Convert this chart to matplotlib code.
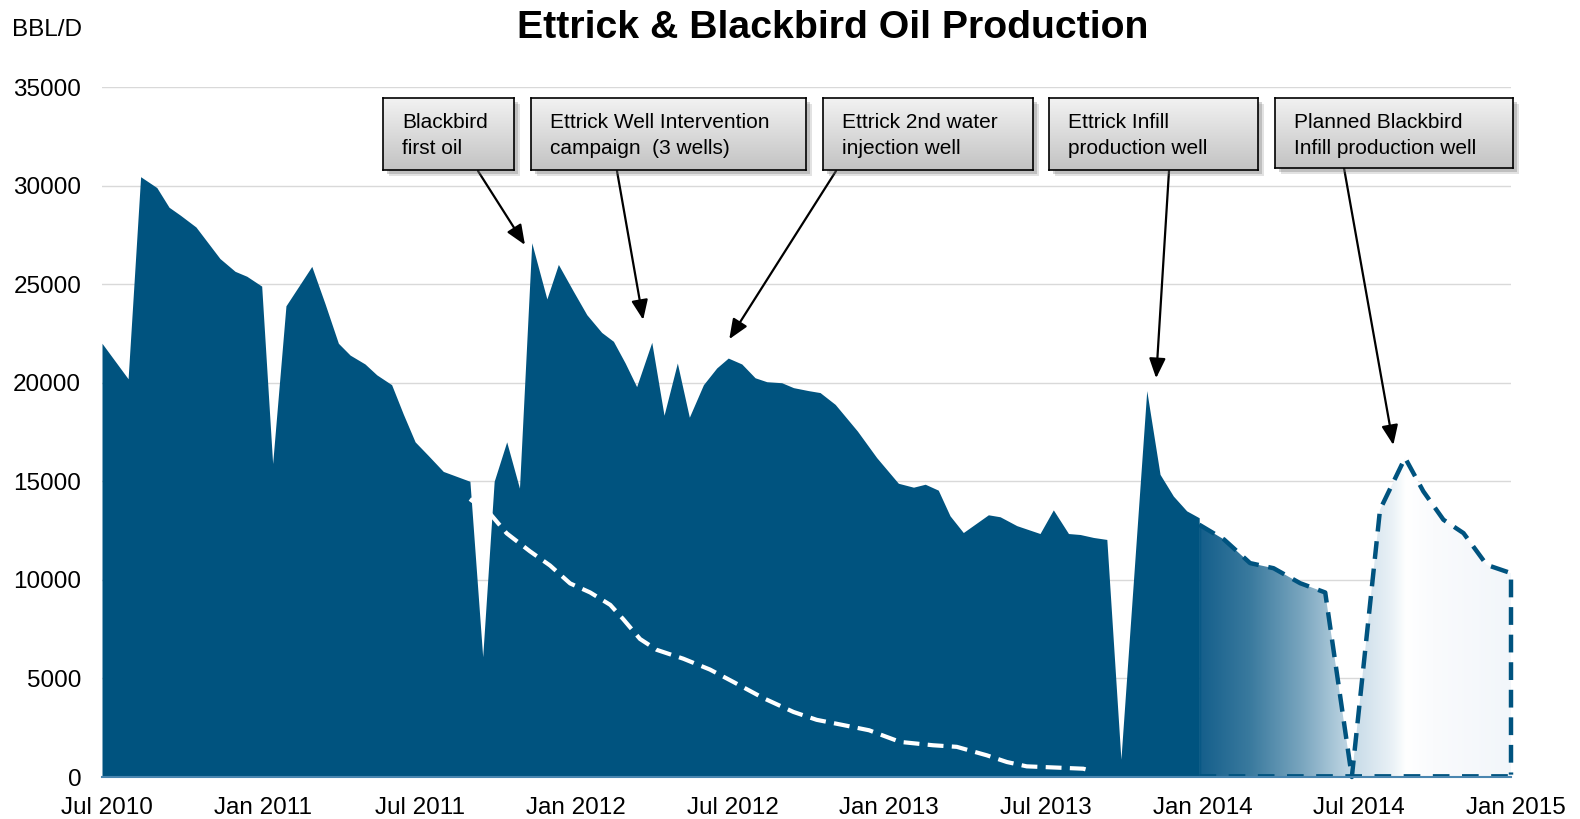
# Ettrick & Blackbird oil production chart
import matplotlib.pyplot as plt
import numpy as np
from matplotlib.colors import LinearSegmentedColormap
from matplotlib.patches import Rectangle
from matplotlib.transforms import ScaledTranslation

plt.rcParams['font.family'] = ['Liberation Sans', 'DejaVu Sans']

W, H = 1580, 819
BLUE = '#00537f'

# x values are months counted from Jul 2010
hist_month = [0, 1.0, 1.48, 2.1, 2.57, 3.0, 3.6, 4.52, 5.1, 5.55, 6.12, 6.54, 7.05, 8.04,
              8.55, 9.06, 9.51, 10.08, 10.53, 11.1, 11.55, 12.0, 12.51, 13.08, 14.1, 14.59,
              15.03, 15.51, 16.0, 16.47, 17.05, 17.49, 18.06, 18.58, 19.15, 19.6, 20.05,
              20.49, 21.07, 21.54, 22.05, 22.51, 23.05, 23.56, 24.0, 24.52, 25.03, 25.48,
              26.05, 26.5, 27.07, 27.52, 28.1, 28.95, 29.69, 30.52, 31.1, 31.55, 32.05,
              32.5, 33.01, 33.97, 34.42, 35.06, 35.95, 36.46, 37.04, 37.49, 38.0, 38.51,
              39.05, 40.04, 40.55, 41.06, 41.57, 42.05]
hist_bbld = [22000, 20200, 30450, 29900, 28900, 28500, 27900, 26300, 25650, 25400, 24900,
             15900, 23900, 25900, 24000, 22000, 21400, 20950, 20400, 19900, 18400, 17000,
             16300, 15500, 15000, 6100, 15000, 17000, 14650, 27100, 24250, 26000, 24650,
             23450, 22550, 22100, 21000, 19800, 22050, 18350, 21000, 18250, 19900, 20750,
             21250, 20950, 20250, 20050, 20000, 19750, 19600, 19500, 18900, 17550, 16200,
             14900, 14700, 14850, 14550, 13250, 12400, 13300, 13200, 12750, 12350, 13550,
             12350, 12300, 12150, 12050, 900, 19600, 15350, 14250, 13500, 13150]

blackbird_month = [14.1, 14.87, 15.51, 16.4, 17.17, 17.94, 18.71, 19.48, 19.98, 20.62, 21.26,
                   22.28, 23.3, 24.2, 25.35, 26.5, 27.39, 28.35, 29.4, 30.08, 30.59, 31.85,
                   32.76, 33.91, 34.68, 35.44, 36.72, 37.61, 37.8]
blackbird_bbld = [14100, 13360, 12360, 11450, 10730, 9820, 9360, 8730, 8000, 7000, 6450,
                  6000, 5450, 4820, 4000, 3300, 2900, 2650, 2370, 2030, 1780, 1610, 1530,
                  1100, 760, 540, 470, 420, 350]

forecast_month = [42.05, 43, 44, 44.9, 45.92, 46.88, 47.9, 48.98, 49.94, 50.64, 51.41, 52.18,
                  53.07, 54]
forecast_bbld = [12800, 12050, 10850, 10590, 9830, 9360, 0, 13560, 16190, 14490, 13050,
                 12370, 10760, 10340]

tick_month = [0, 6, 12, 18, 24, 30, 36, 42, 48, 54]
tick_labels = ['Jul 2010', 'Jan 2011', 'Jul 2011', 'Jan 2012', 'Jul 2012', 'Jan 2013',
               'Jul 2013', 'Jan 2014', 'Jul 2014', 'Jan 2015']
y_ticks = [0, 5000, 10000, 15000, 20000, 25000, 30000, 35000]

notes = [['Blackbird', 'first oil'],
         ['Ettrick Well Intervention', 'campaign  (3 wells)'],
         ['Ettrick 2nd water', 'injection well'],
         ['Ettrick Infill', 'production well'],
         ['Planned Blackbird', 'Infill production well']]
# what each note points at (month, bbl/d)
note_target_month = [16.21, 20.74, 24.04, 40.4, 49.49]
note_target_bbld = [26990, 23190, 22210, 20230, 16840]

# layout in pixels from top-left: box (x0, y0, x1, y1), arrow start
note_boxes = [(383, 98, 514, 170), (531, 98, 806, 170), (823, 98, 1033, 170),
              (1049, 98, 1258, 170), (1275, 98, 1513, 168)]
note_starts = [(478, 171), (617, 171), (836, 171), (1169, 171), (1344, 168)]


def fig_frac(x, y):
    return x / W, 1 - y / H


fig = plt.figure(figsize=(W / 100, H / 100), dpi=100)
left, top = fig_frac(102, 87)
right, bottom = fig_frac(1511, 777)
ax = fig.add_axes([left, bottom, right - left, top - bottom])

ax.fill_between(hist_month, hist_bbld, color=BLUE, lw=0, zorder=2)

# forecast area with horizontal colour fade
poly = ax.fill_between(forecast_month, forecast_bbld, facecolor='none', lw=0, zorder=2)
stops = [42.05, 42.15, 44, 46, 48, 48.3, 49.5, 50, 51, 54]
reds = [0, 22, 58, 122, 200, 207, 235, 255, 250, 242]
greens = [82, 96, 122, 166, 220, 224, 242, 255, 251, 246]
blues = [128, 140, 158, 191, 232, 235, 247, 255, 253, 250]
gx = np.linspace(forecast_month[0], forecast_month[-1], 400)
grad = np.stack([np.interp(gx, stops, reds), np.interp(gx, stops, greens),
                 np.interp(gx, stops, blues)], axis=-1)[None, :, :] / 255.0
img = ax.imshow(grad, extent=[forecast_month[0], forecast_month[-1], 0, 35000],
                aspect='auto', origin='lower', zorder=2, interpolation='bilinear')
img.set_clip_path(poly.get_paths()[0], transform=ax.transData)

# dashed outline of the forecast
out_x = list(forecast_month) + [forecast_month[-1]]
out_y = list(forecast_bbld) + [120]
line, = ax.plot(out_x, out_y, color=BLUE, lw=3.2, zorder=4, clip_on=False)
line.set_dashes([4, 2.2])
base, = ax.plot([forecast_month[0], forecast_month[-1]], [120, 120], color=BLUE, lw=2,
                zorder=4, clip_on=False)
base.set_dashes([6, 4.5])

# Blackbird decline line
bb, = ax.plot(blackbird_month, blackbird_bbld, color='white', lw=3, zorder=3)
bb.set_dashes([3.8, 2.0])

ax.set_xlim(0, 54)
ax.set_ylim(0, 35000)
ax.set_yticks(y_ticks)
ax.set_xticks(tick_month)
ax.set_xticklabels(tick_labels)
ax.tick_params(axis='both', length=0, labelsize=17.5)
ax.tick_params(axis='y', pad=15)
ax.tick_params(axis='x', pad=14.5)
offset = ScaledTranslation(4.5 / 100, 0, fig.dpi_scale_trans)
for lab in ax.get_xticklabels():
    lab.set_transform(lab.get_transform() + offset)

ax.yaxis.grid(True, color='#d9d9d9', lw=1)
ax.set_axisbelow(True)
for side in ['left', 'right', 'top']:
    ax.spines[side].set_visible(False)
ax.spines['bottom'].set_color('#4a86b0')
ax.spines['bottom'].set_linewidth(1.5)
ax.spines['bottom'].set_zorder(5)

fig.text(*fig_frac(833, 37.5), 'Ettrick & Blackbird Oil Production', ha='center',
         va='baseline', fontsize=28.3, fontweight='bold')
fig.text(*fig_frac(11.5, 36), 'BBL/D', fontsize=17.5, va='baseline')

# annotation boxes
box_cmap = LinearSegmentedColormap.from_list('box', ['#f2f2f2', '#c3c3c3'])
for lines, (x0, y0, x1, y1), start, tm, tv in zip(notes, note_boxes, note_starts,
                                                   note_target_month, note_target_bbld):
    for k, a in [(6, 0.2), (4, 0.3)]:
        sx, sy = fig_frac(x0 + k, y1 + k)
        fig.add_artist(Rectangle((sx, sy), (x1 - x0) / W, (y1 - y0) / H,
                                 transform=fig.transFigure, color='#707070', alpha=a,
                                 lw=0, zorder=4))
    bx, by = fig_frac(x0, y1)
    bax = fig.add_axes([bx, by, (x1 - x0) / W, (y1 - y0) / H], zorder=5)
    bax.imshow(np.linspace(0, 1, 100).reshape(-1, 1), cmap=box_cmap, aspect='auto',
               extent=[0, 1, 0, 1])
    bax.set_xticks([])
    bax.set_yticks([])
    for sp in bax.spines.values():
        sp.set_linewidth(1.2)
        sp.set_color('black')
    for i, txt in enumerate(lines):
        fig.text(*fig_frac(x0 + 19, y0 + 30.5 + 25 * i), txt, fontsize=15, va='baseline',
                 zorder=6)
    ax.annotate('', xy=(tm, tv), xytext=(start[0], H - start[1]),
                textcoords='figure pixels', annotation_clip=False,
                arrowprops=dict(arrowstyle='-|>,head_length=0.6,head_width=0.25',
                                color='black', lw=1.6, mutation_scale=20,
                                shrinkA=0, shrinkB=0), zorder=6)

fig.savefig('out.png', dpi=100)
